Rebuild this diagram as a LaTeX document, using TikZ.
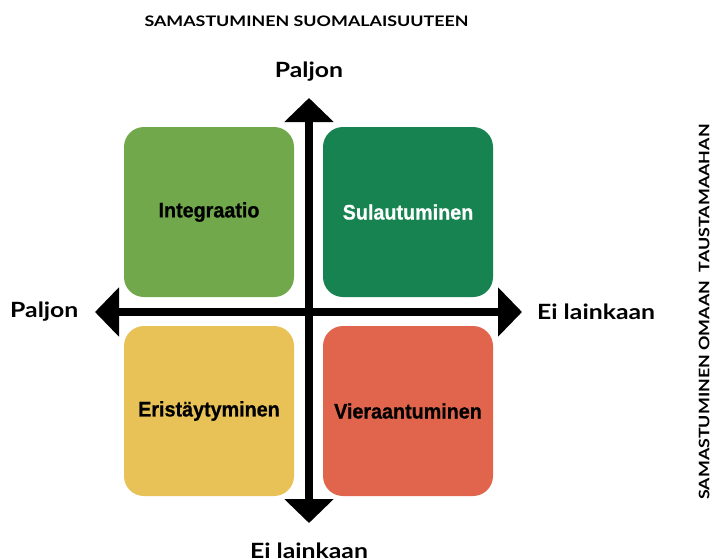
\documentclass[tikz,border=0pt]{standalone}
\usepackage{fontspec}
\setmainfont{Lato}
\newfontfamily\widefont[FakeStretch=1.18]{Lato}
\newfontfamily\titlefont[FakeStretch=1.23]{Lato}
\newfontfamily\condfont[UprightFont={* Bold}, FakeStretch=0.94, FakeBold=0.8]{Liberation Sans}
\usetikzlibrary{arrows.meta}
\definecolor{cgreen}{RGB}{113,168,75}
\definecolor{cdgreen}{RGB}{22,131,80}
\definecolor{cyellow}{RGB}{232,194,87}
\definecolor{cred}{RGB}{224,101,76}
\tikzset{
  quad/.style={rounded corners=20pt, minimum width=170pt, minimum height=170pt, inner sep=0pt,
    font=\condfont\fontsize{21}{24}\selectfont},
  axis/.style={line width=8pt, {Triangle[width=48pt,length=24pt]}-{Triangle[width=48pt,length=24pt]}},
  axlabel/.style={font=\widefont\bfseries\fontsize{21}{24}\selectfont, inner sep=0pt},
  title/.style={font=\titlefont\bfseries\fontsize{14.5}{17}\selectfont, inner sep=0pt}
}
\begin{document}
\begin{tikzpicture}[x=1pt,y=-1pt]
\useasboundingbox (0,0) rectangle (714,558);
\node[quad, fill=cgreen] (q1) at (209,212) {Integraatio};
\node[quad, fill=cdgreen, text=white] (q2) at (408,212) {Sulautuminen};
\node[quad, fill=cyellow] (q3) at (209,411) {Eristäytyminen};
\node[quad, fill=cred] (q4) at (408,411) {Vieraantuminen};
\coordinate (top) at (309,98);
\coordinate (bot) at (309,523);
\coordinate (lft) at (95,312);
\coordinate (rgt) at (522,312);
\draw[axis] (bot) -- (top);
\draw[axis] (lft) -- (rgt);
\node[axlabel] (ltop) at (309,72) {Paljon};
\node[axlabel] (lbot) at (309,551) {Ei lainkaan};
\node[axlabel, anchor=west] (llft) at (10,312) {Paljon};
\node[axlabel, anchor=west] (lrgt) at (537,312) {Ei lainkaan};
\node[title] (t1) at (306.5,21) {SAMASTUMINEN SUOMALAISUUTEEN};
\node[title, rotate=90] (t2) at (704,312) {SAMASTUMINEN OMAAN\ \ TAUSTAMAAHAN};
\end{tikzpicture}
\end{document}
